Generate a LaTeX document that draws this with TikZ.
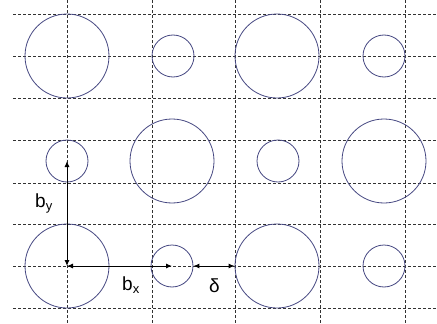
\documentclass[tikz,border=0pt]{standalone}
\usepackage{fontspec}
\setmainfont{Liberation Sans}
\usetikzlibrary{arrows.meta}
\definecolor{circ}{RGB}{70,72,130}
\definecolor{gridc}{RGB}{50,50,50}
\tikzset{
  gridline/.style={draw=gridc, line width=0.75pt, dash pattern=on 3pt off 2pt},
  bigc/.style={circle, draw=circ, line width=0.8pt, minimum size=84pt, inner sep=0pt},
  smallc/.style={circle, draw=circ, line width=0.8pt, minimum size=42pt, inner sep=0pt},
  dim/.style={draw=black, line width=1pt, {Latex[length=6pt,width=5pt]}-{Latex[length=6pt,width=5pt]}},
  lbl/.style={inner sep=0pt, anchor=base west, font=\fontsize{19}{22}\selectfont}
}
\begin{document}
\begin{tikzpicture}[x=1pt,y=-1pt]
\useasboundingbox (0,0) rectangle (437,324);
\fill[white] (0,0) rectangle (437,324);
% grid
\foreach \yy in {14,56,98,140,183,224,266,308}
  \draw[gridline] (13,\yy) -- (437,\yy);
\foreach \xx in {67,152,235,320,405}
  \draw[gridline] (\xx,0) -- (\xx,324);
% row 1
\node[bigc]   (c11) at (67,56) {};
\node[smallc] (c12) at (173,56) {};
\node[bigc]   (c13) at (277,56) {};
\node[smallc] (c14) at (384,56) {};
% row 2
\node[smallc] (c21) at (67,161) {};
\node[bigc]   (c22) at (172,161) {};
\node[smallc] (c23) at (278,161) {};
\node[bigc]   (c24) at (384,161) {};
% row 3
\node[bigc]   (c31) at (67,266) {};
\node[smallc] (c32) at (172,266) {};
\node[bigc]   (c33) at (277,266) {};
\node[smallc] (c34) at (384,266) {};
% dimensions
\draw[dim] (c31.center) -- (c21.center);
\draw[dim] (c31.center) -- (c32.center);
\draw[dim] (c32.east) -- (c33.west);
% labels
\node[lbl] (by) at (35,207) {b\raisebox{-3pt}{\fontsize{13}{15}\selectfont y}};
\node[lbl] (bx) at (122,290) {b\raisebox{-3pt}{\fontsize{13}{15}\selectfont x}};
\node[lbl] (dl) at (209,292) {δ};
\end{tikzpicture}
\end{document}
